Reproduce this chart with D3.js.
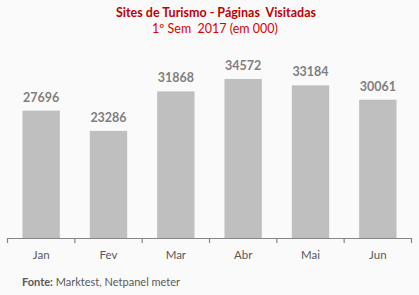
<!DOCTYPE html>
<html><head><meta charset="utf-8">
<script src="https://cdn.jsdelivr.net/npm/d3@7"></script>
<style>
html,body{margin:0;padding:0;background:#fafafa;}
svg{display:block;font-family:Lato, "Open Sans", sans-serif;}
</style></head>
<body>
<svg id="c" width="419" height="295"></svg>
<script>
const months = ["Jan","Fev","Mar","Abr","Mai","Jun"];
const visits = [27696, 23286, 31868, 34572, 33184, 30061];
const titleText = "Sites de Turismo - Páginas  Visitadas";
const subtitleText = "1º Sem  2017 (em 000)";
const sourceLabel = "Fonte:";
const sourceText = " Marktest, Netpanel meter";

const svg = d3.select("#c");
svg.append("rect").attr("width",419).attr("height",295).attr("fill","#fafafa");

const x = d3.scaleBand().domain(months).range([7.5, 411.5]).padding(0);
const y = d3.scaleLinear().domain([0, 40000]).range([238, 54]);
const barW = x.bandwidth() * 0.555;

svg.append("text").attr("x",216).attr("y",17).attr("text-anchor","middle")
  .attr("font-size",12.5).attr("font-weight","bold").attr("fill","#c00000").style("white-space","pre").text(titleText);
svg.append("text").attr("x",215).attr("y",33).attr("text-anchor","middle")
  .attr("font-size",12.5).attr("fill","#e00000").style("white-space","pre").text(subtitleText);

svg.selectAll("rect.bar").data(visits).join("rect").attr("class","bar")
  .attr("x",(d,i)=>x(months[i]) + x.bandwidth()/2 - barW/2)
  .attr("y",d=>y(d)).attr("width",barW).attr("height",d=>y(0)-y(d))
  .attr("fill","#bfbfbf");

svg.selectAll("text.val").data(visits).join("text").attr("class","val")
  .attr("x",(d,i)=>x(months[i]) + x.bandwidth()/2)
  .attr("y",d=>y(d)-9).attr("text-anchor","middle")
  .attr("font-size",12.5).attr("font-weight","bold").attr("fill","#7f7f7f").text(d=>d);

const axis = d3.axisBottom(x).tickSize(0).tickPadding(11);
const g = svg.append("g").attr("transform","translate(0,238)").call(axis);
g.select(".domain").attr("stroke","#868686").attr("stroke-width",1.2);
g.selectAll("text").attr("font-size",11.5).attr("fill","#595959").attr("font-family","Lato, 'Open Sans', sans-serif").attr("dy","0.9em");
const bounds = months.map(m=>x(m)).concat([x(months[months.length-1])+x.bandwidth()]);
g.selectAll("line.sep").data(bounds).join("line").attr("class","sep")
  .attr("x1",d=>d).attr("x2",d=>d).attr("y1",0).attr("y2",5)
  .attr("stroke","#868686").attr("stroke-width",1.2);

const ft = svg.append("text").attr("x",22).attr("y",286).attr("font-size",11).attr("fill","#595959").style("white-space","pre");
ft.append("tspan").attr("font-weight","bold").text(sourceLabel);
ft.append("tspan").text(sourceText);
</script>
</body></html>
